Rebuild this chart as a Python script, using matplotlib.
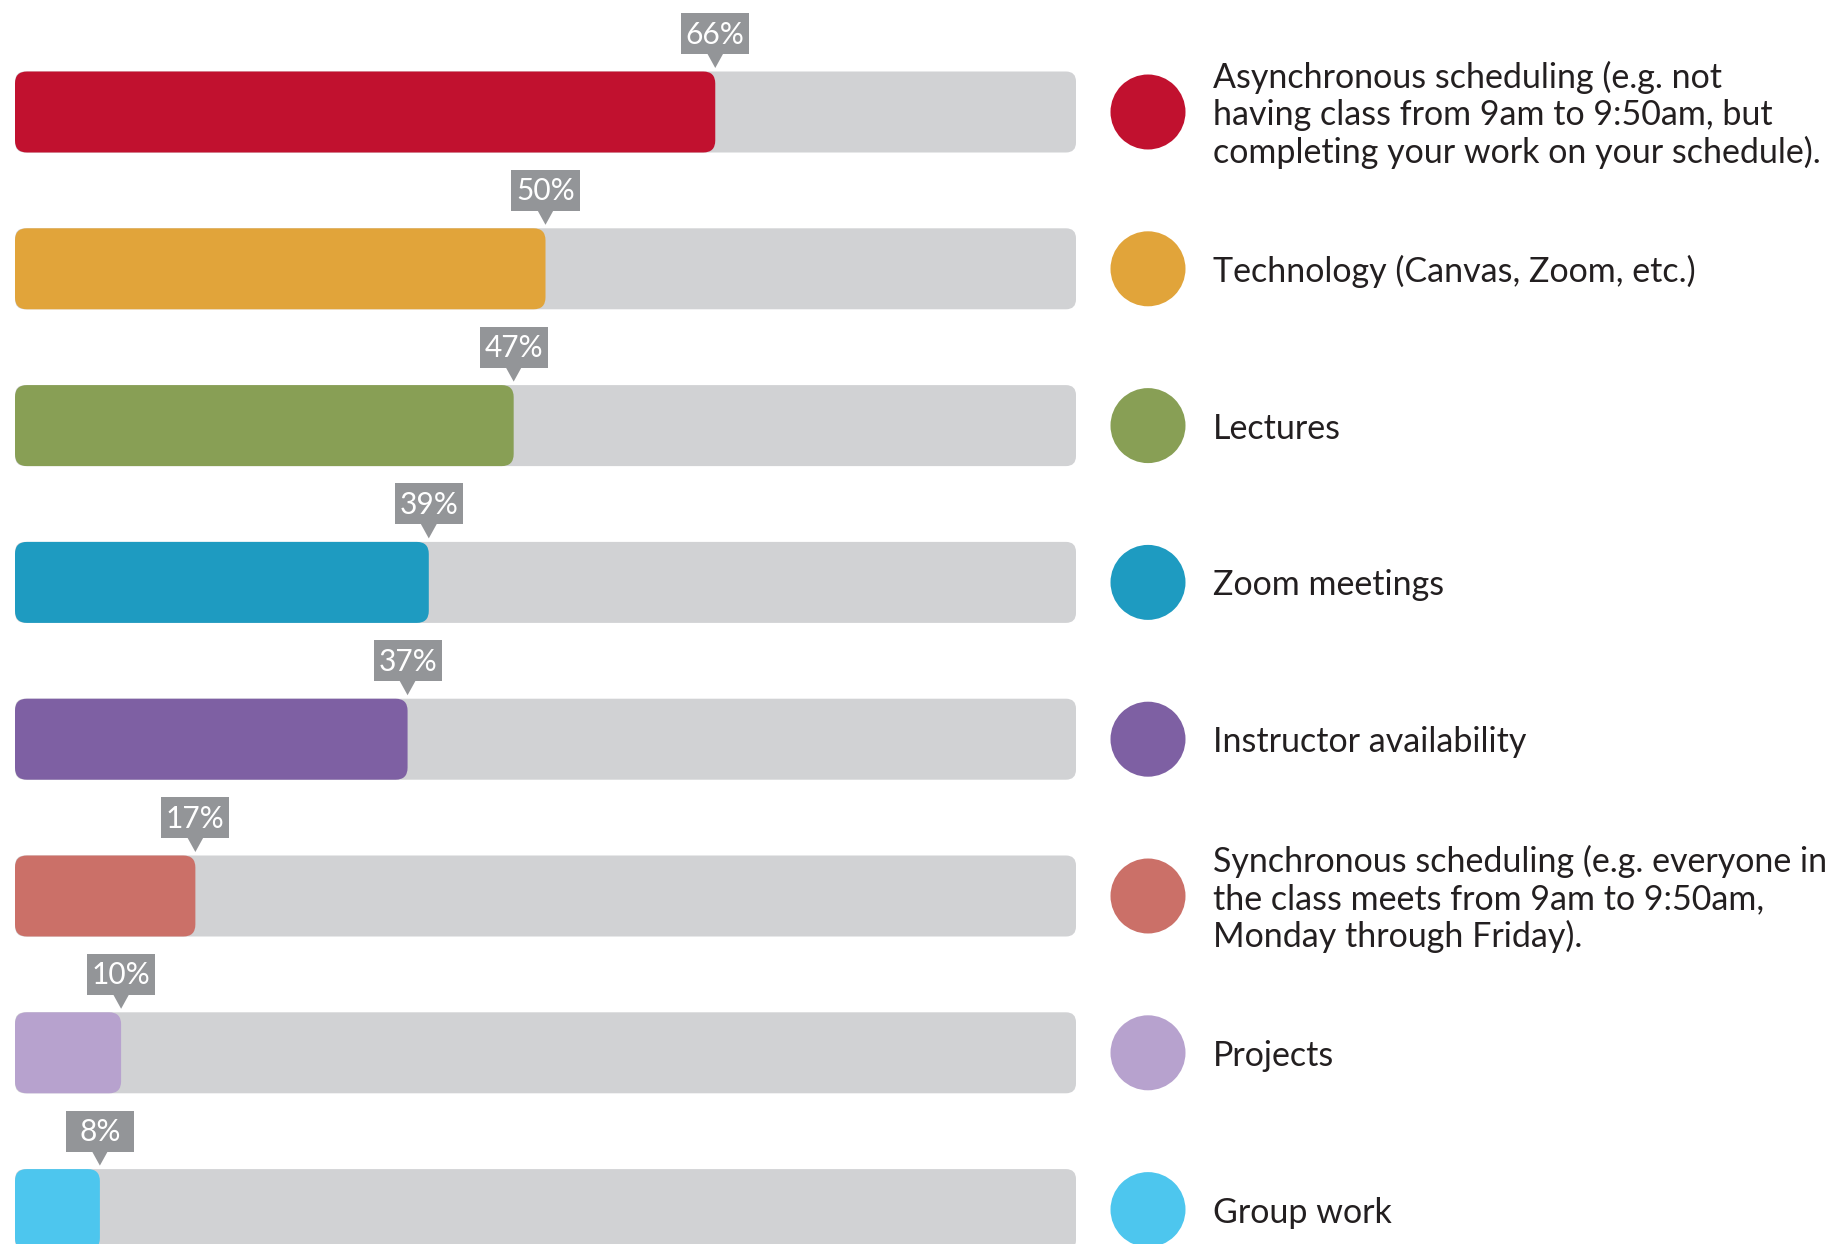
import matplotlib.pyplot as plt
from matplotlib.patches import FancyBboxPatch, Rectangle, Polygon

plt.rcParams['font.family'] = ['Lato', 'DejaVu Sans']

# data
labels = [
    "Asynchronous scheduling (e.g. not\nhaving class from 9am to 9:50am, but\ncompleting your work on your schedule).",
    "Technology (Canvas, Zoom, etc.)",
    "Lectures",
    "Zoom meetings",
    "Instructor availability",
    "Synchronous scheduling (e.g. everyone in\nthe class meets from 9am to 9:50am,\nMonday through Friday).",
    "Projects",
    "Group work",
]
values = [66, 50, 47, 39, 37, 17, 10, 8]
colors = ["#C1112F", "#E1A43A", "#889F55", "#1E9BC1",
          "#7E60A3", "#CB7068", "#B7A2CE", "#4DC6EE"]

W, H = 1846, 1244
fig = plt.figure(figsize=(W / 100, H / 100), dpi=100)

# geometry in pixels
bar_left, bar_right = 15, 1076
first_c, step = 112, 156.8
bar_h_px = 81
y_top = -first_c / step
y_bot = (H - first_c) / step

ax = fig.add_axes([bar_left / W, 0, (bar_right - bar_left) / W, 1])
ax.set_xlim(0, 100)
ax.set_ylim(y_bot, y_top)
ax.axis('off')

px_x = (bar_right - bar_left) / 100.0   # pixels per x unit
px_y = step                             # pixels per y unit
aspect = px_x / px_y
bh = bar_h_px / px_y
r = 10 / px_x

box_w, box_h = 68 / px_x, 41 / px_y
gray = "#939598"

for i, (v, c) in enumerate(zip(values, colors)):
    track = FancyBboxPatch((0, i - bh / 2), 100, bh,
                           boxstyle=f"round,pad=0,rounding_size={r}",
                           mutation_aspect=aspect, fc="#D1D2D4", ec="none")
    ax.add_patch(track)
    fill = FancyBboxPatch((0, i - bh / 2), v, bh,
                          boxstyle=f"round,pad=0,rounding_size={r * 1.2}",
                          mutation_aspect=aspect, fc=c, ec="none")
    ax.add_patch(fill)
    # callout label
    yb = i - 58 / px_y
    ax.add_patch(Rectangle((v - box_w / 2, yb - box_h), box_w, box_h,
                           fc=gray, ec="none", clip_on=False))
    ax.add_patch(Polygon([(v - 8 / px_x, yb - 0.5 / px_y),
                          (v + 8 / px_x, yb - 0.5 / px_y),
                          (v, i - 44 / px_y)],
                         closed=True, fc=gray, ec="none", clip_on=False))
    ax.text(v, yb - box_h / 2 + 1 / px_y, f"{v}%", ha='center', va='center',
            fontsize=21.5, color='white', clip_on=False)

# legend
lax = fig.add_axes([0, 0, 1, 1], facecolor='none')
lax.set_xlim(0, W)
lax.set_ylim(y_bot, y_top)
lax.axis('off')
for i, (lab, c) in enumerate(zip(labels, colors)):
    lax.scatter([1148], [i], s=(75 * 0.72) ** 2, color=c, edgecolors='none')
    lax.text(1213, i + 3 / px_y, lab, ha='left', va='center', fontsize=24.5,
             color='#231F20', linespacing=1.2)

fig.savefig("out.png", dpi=100)
